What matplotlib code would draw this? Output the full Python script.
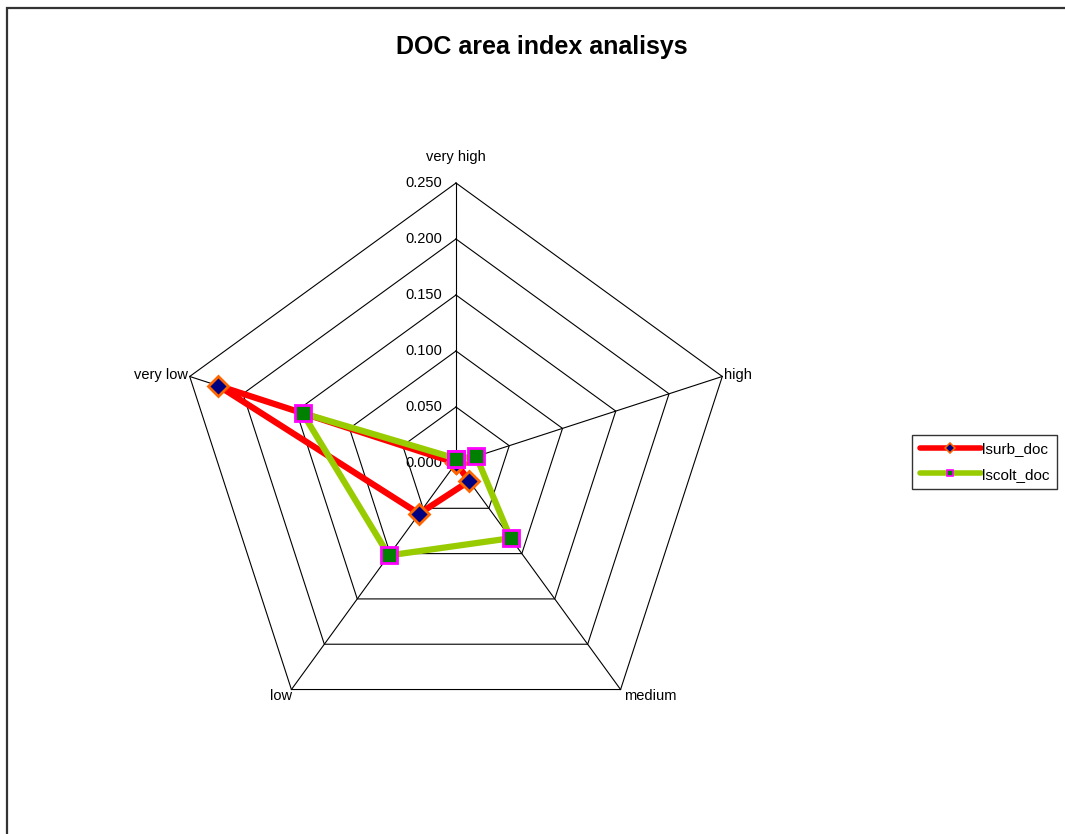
import numpy as np
import matplotlib
matplotlib.use('Agg')
import matplotlib.pyplot as plt
from matplotlib.lines import Line2D
from matplotlib.patches import Rectangle

plt.rcParams['font.family'] = ['Liberation Sans', 'DejaVu Sans']

# categories clockwise from the top
categories = ['very high', 'high', 'medium', 'low', 'very low']
lsurb_doc = [0.000, 0.000, 0.020, 0.056, 0.223]
lscolt_doc = [0.004, 0.019, 0.083, 0.102, 0.144]
levels = [0.05, 0.10, 0.15, 0.20, 0.25]
tick_labels = ['0.000', '0.050', '0.100', '0.150', '0.200', '0.250']

W, H = 1065, 834
cx, cy = 456, 463          # centre of the web, pixels from top-left
scale = 1120.0             # pixels per unit

fig = plt.figure(figsize=(W / 100, H / 100), dpi=100)
ax = fig.add_axes([0, 0, 1, 1])
ax.set_xlim(-cx / scale, (W - cx) / scale)
ax.set_ylim(-(H - cy) / scale, cy / scale)
ax.set_aspect('equal')
ax.axis('off')

ang = np.deg2rad(90 - 72 * np.arange(len(categories)))


def to_xy(vals):
    v = np.asarray(vals, dtype=float)
    x = v * np.cos(ang)
    y = v * np.sin(ang)
    return np.append(x, x[0]), np.append(y, y[0])


# web: pentagons and spokes
for lv in levels:
    x, y = to_xy([lv] * len(categories))
    ax.plot(x, y, color='black', lw=0.8, zorder=1)
rmax = levels[-1]
for a in ang:
    ax.plot([0, rmax * np.cos(a)], [0, rmax * np.sin(a)], color='black', lw=0.8, zorder=1)

# radial tick labels along the top spoke
for i, t in enumerate(tick_labels):
    ax.text(-14 / scale, i * 0.05, t, ha='right', va='center', fontsize=10.5)

# category labels
ax.text(0, rmax + 26 / scale, categories[0], ha='center', va='center', fontsize=10.5)
ax.text(rmax * np.cos(ang[1]) + 2 / scale, rmax * np.sin(ang[1]) + 1 / scale, categories[1],
        ha='left', va='center', fontsize=10.5)
ax.text(rmax * np.cos(ang[2]) + 3 / scale, rmax * np.sin(ang[2]) - 6 / scale, categories[2],
        ha='left', va='center', fontsize=10.5)
ax.text(rmax * np.cos(ang[3]) + 1 / scale, rmax * np.sin(ang[3]) - 6 / scale, categories[3],
        ha='right', va='center', fontsize=10.5)
ax.text(rmax * np.cos(ang[4]) - 2 / scale, rmax * np.sin(ang[4]) + 1 / scale, categories[4],
        ha='right', va='center', fontsize=10.5)

# series
x, y = to_xy(lsurb_doc)
ax.plot(x, y, color='#ff0000', lw=4.5, marker='D', ms=10.5, mfc='#000080',
        mec='#ff6600', mew=2, zorder=3, solid_joinstyle='miter')
x, y = to_xy(lscolt_doc)
ax.plot(x, y, color='#99cc00', lw=4.5, marker='s', ms=11.5, mfc='#008000',
        mec='#ff00ff', mew=2, zorder=4, solid_joinstyle='miter')

# title
fig.text(542 / W, 1 - 47 / H, 'DOC area index analisys', ha='center', va='center',
         fontsize=18, fontweight='bold')

# legend
handles = [
    Line2D([], [], color='#ff0000', lw=4, marker='D', ms=5, mfc='#000080',
           mec='#ff6600', mew=1.2, solid_capstyle='round'),
    Line2D([], [], color='#99cc00', lw=4, marker='s', ms=5, mfc='#008000',
           mec='#ff00ff', mew=1.2, solid_capstyle='round'),
]
leg = ax.legend(handles, ['lsurb_doc', 'lscolt_doc'], loc='center left',
                bbox_to_anchor=(912 / W, 1 - 462 / H), bbox_transform=fig.transFigure,
                fontsize=11, frameon=True, fancybox=False, shadow=False,
                handlelength=4.0, handletextpad=0.1, labelspacing=0.75,
                borderpad=0.5, borderaxespad=0)
leg.get_frame().set_edgecolor('black')
leg.get_frame().set_linewidth(1.0)

# chart area border
fig.add_artist(Rectangle((7 / W, -0.5), 1.5, 1.5 - 8 / H, transform=fig.transFigure,
                         fill=False, edgecolor='#333333', lw=1.6))

fig.savefig('out.png', dpi=100, facecolor='white')
